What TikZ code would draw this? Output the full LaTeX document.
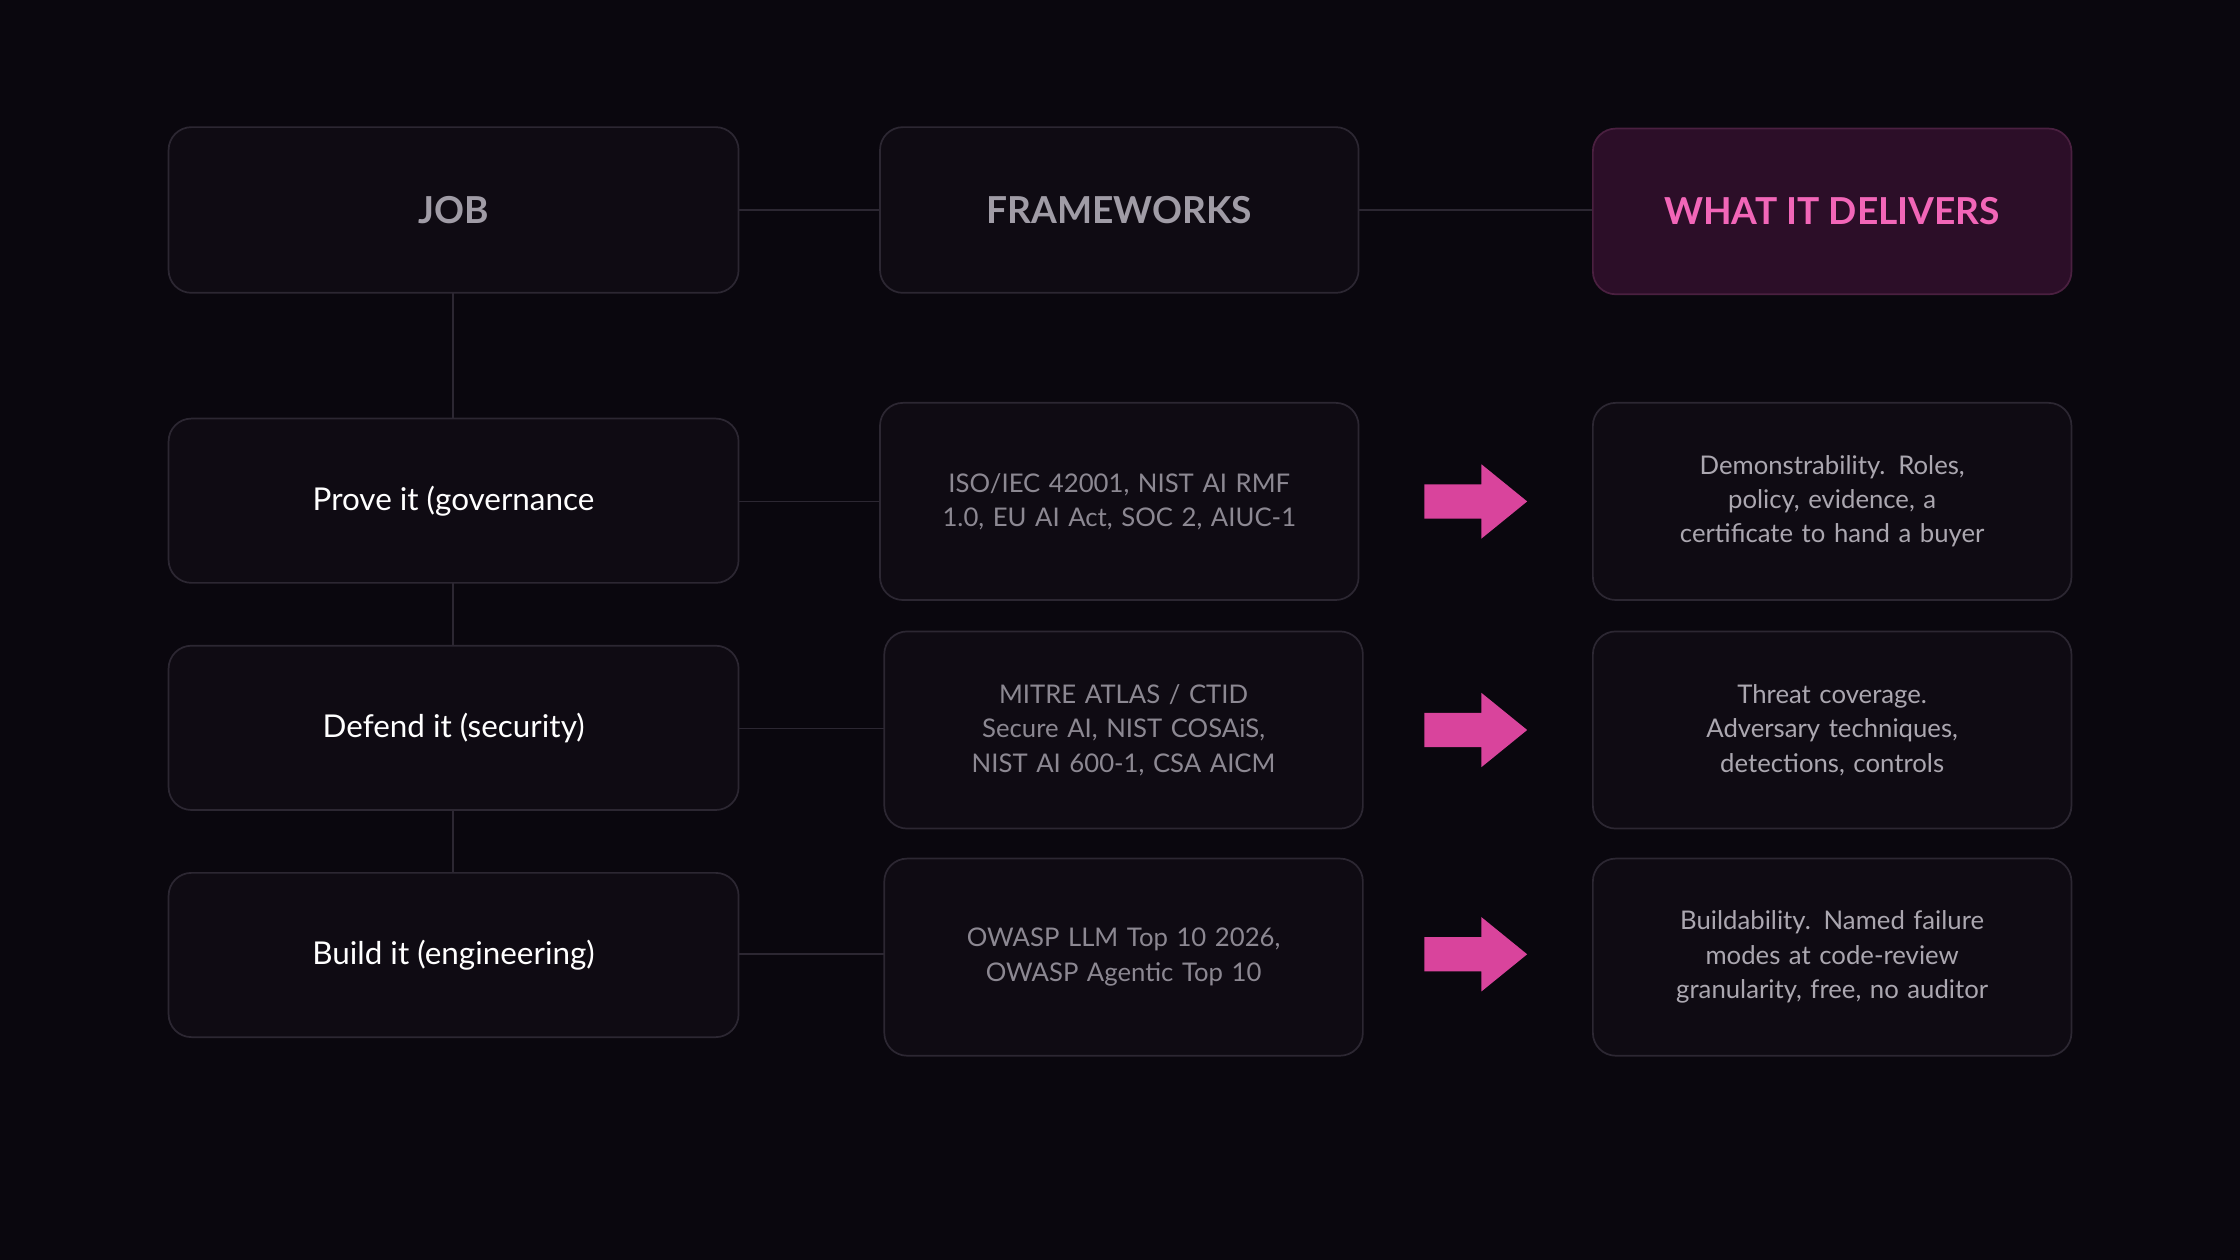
\documentclass[tikz,border=0pt]{standalone}
\usepackage{fontspec}
\setmainfont{Lato}
\definecolor{bg}{HTML}{0A070E}
\definecolor{boxf}{HTML}{0F0B13}
\definecolor{boxd}{HTML}{2C2732}
\definecolor{hdr}{HTML}{A09CA6}
\definecolor{pinkt}{HTML}{F266B8}
\definecolor{pinkf}{HTML}{2C0E28}
\definecolor{pinkd}{HTML}{4A2040}
\definecolor{midt}{HTML}{8C8892}
\definecolor{rt}{HTML}{ABA7B0}
\definecolor{arr}{HTML}{D9449C}
\begin{document}
\begin{tikzpicture}[x=0.5pt,y=-0.5pt,
  bx/.style={draw=boxd,fill=boxf,rounded corners=8pt,line width=0.6pt},
  lbl/.style={align=center,text width=150pt},
  conn/.style={draw=boxd,line width=0.6pt}]
\fill[bg] (0,0) rectangle (1568,882);
\useasboundingbox (0,0) rectangle (1568,882);
% connectors first
\coordinate (jb) at (317,205); \coordinate (pt) at (317,293);
\draw[conn] (517,147) -- (616,147);
\draw[conn] (951,147) -- (1115,147);
\draw[conn] (317,205) -- (317,293);
\draw[conn] (317,408) -- (317,452);
\draw[conn] (317,567) -- (317,611);
\draw[conn] (517,351) -- (616,351);
\draw[conn] (517,510) -- (619,510);
\draw[conn] (517,668) -- (619,668);
% boxes
\draw[bx] (118,89) rectangle (517,205) node[midway,font=\fontsize{13}{15}\selectfont\bfseries,text=hdr] (job) {JOB};
\draw[bx] (616,89) rectangle (951,205) node[midway,font=\fontsize{13}{15}\selectfont\bfseries,text=hdr] (fw) {FRAMEWORKS};
\draw[bx,fill=pinkf,draw=pinkd] (1115,90) rectangle (1450,206) node[midway,font=\fontsize{13}{15}\selectfont\bfseries,text=pinkt] (wd) {WHAT IT DELIVERS};
\foreach \y/\h/\t [count=\i] in {293/115/Prove it (governance / GRC),452/115/Defend it (security),611/115/Build it (engineering)}{
  \draw[bx] (118,\y) rectangle (517,\y+\h) node[midway,font=\fontsize{11}{13}\selectfont,text=white] (l\i) {\t};
}
\draw[bx] (616,282) rectangle (951,420) node[midway,lbl,font=\fontsize{9}{12}\selectfont,text=midt] (m1) {ISO/IEC 42001, NIST AI RMF\\1.0, EU AI Act, SOC 2, AIUC-1};
\draw[bx] (619,442) rectangle (954,580) node[midway,lbl,font=\fontsize{9}{12}\selectfont,text=midt] (m2) {MITRE ATLAS / CTID\\Secure AI, NIST COSAiS,\\NIST AI 600-1, CSA AICM};
\draw[bx] (619,601) rectangle (954,739) node[midway,lbl,font=\fontsize{9}{12}\selectfont,text=midt] (m3) {OWASP LLM Top 10 2026,\\OWASP Agentic Top 10};
\draw[bx] (1115,282) rectangle (1450,420) node[midway,lbl,font=\fontsize{9}{12}\selectfont,text=rt] (r1) {Demonstrability. Roles,\\policy, evidence, a\\certificate to hand a buyer};
\draw[bx] (1115,442) rectangle (1450,580) node[midway,lbl,font=\fontsize{9}{12}\selectfont,text=rt] (r2) {Threat coverage.\\Adversary techniques,\\detections, controls};
\draw[bx] (1115,601) rectangle (1450,739) node[midway,lbl,font=\fontsize{9}{12}\selectfont,text=rt] (r3) {Buildability. Named failure\\modes at code-review\\granularity, free, no auditor};
% arrows
\foreach \c in {351,511,668}{
  \fill[arr] (997,\c-12) -- (1037,\c-12) -- (1037,\c-26) -- (1069,\c) -- (1037,\c+26) -- (1037,\c+12) -- (997,\c+12) -- cycle;
}
\end{tikzpicture}
\end{document}
